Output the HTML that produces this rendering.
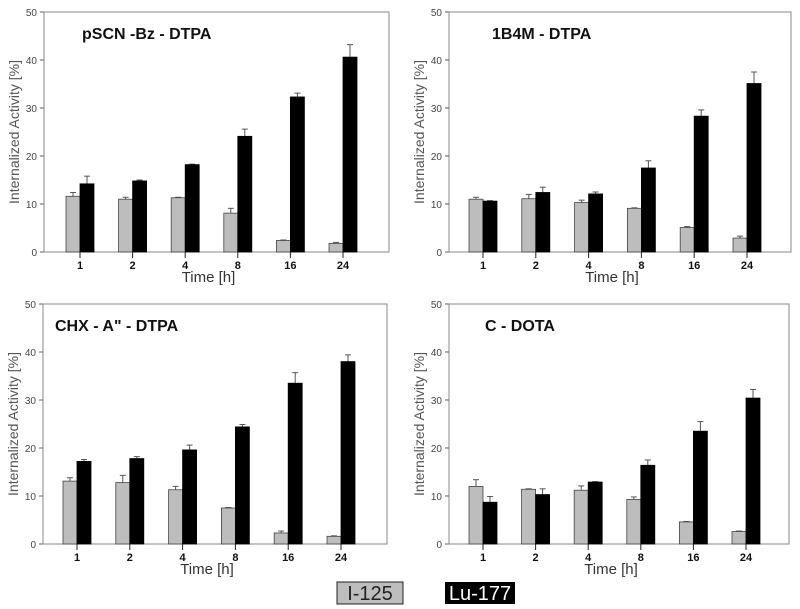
<!DOCTYPE html>
<html><head><meta charset="utf-8"><style>
body{margin:0;background:#fff;width:800px;height:609px;overflow:hidden}
svg{display:block}
text{font-family:"Liberation Sans",Arial,sans-serif}
</style></head><body>
<svg id="c" width="800" height="609"></svg>
<script>
const categories=["1","2","4","8","16","24"];
const yTicks=[0,10,20,30,40,50];
const titles=["pSCN -Bz - DTPA","1B4M - DTPA","CHX - A\" - DTPA","C - DOTA"];
const i125TL=[11.6,11,11.3,8.1,2.4,1.8], i125ErrTL=[0.8,0.4,0.1,1,0.1,0.2];
const lu177TL=[14.2,14.8,18.2,24.1,32.3,40.6], lu177ErrTL=[1.6,0.2,0.1,1.5,0.8,2.6];
const i125TR=[11,11.1,10.3,9.1,5.1,2.9], i125ErrTR=[0.4,0.9,0.5,0.1,0.2,0.4];
const lu177TR=[10.6,12.4,12.1,17.5,28.3,35.1], lu177ErrTR=[0.1,1.1,0.4,1.5,1.3,2.4];
const i125BL=[13.1,12.8,11.3,7.5,2.3,1.6], i125ErrBL=[0.7,1.5,0.7,0.1,0.4,0.1];
const lu177BL=[17.2,17.8,19.6,24.4,33.5,38], lu177ErrBL=[0.4,0.4,1,0.5,2.2,1.4];
const i125BR=[12,11.4,11.2,9.3,4.6,2.6], i125ErrBR=[1.4,0.1,0.9,0.5,0.1,0.1];
const lu177BR=[8.7,10.3,12.9,16.4,23.5,30.4], lu177ErrBR=[1.2,1.2,0.1,1.1,2,1.8];

const svg=document.getElementById('c');
const NS='http://www.w3.org/2000/svg';
function mk(tag,at,parent,txt){const e=document.createElementNS(NS,tag);for(const k in at)e.setAttribute(k,at[k]);if(txt!==undefined)e.textContent=txt;(parent||svg).appendChild(e);return e;}

const panels=[
 {x0:44,x1:389,y0:12,y1:252,c0:80,c24:343,g:i125TL,ge:i125ErrTL,b:lu177TL,be:lu177ErrTL,name:'panel-pscn-bz-dtpa'},
 {x0:449,x1:791,y0:12,y1:252,c0:483,c24:747,g:i125TR,ge:i125ErrTR,b:lu177TR,be:lu177ErrTR,name:'panel-1b4m-dtpa'},
 {x0:43,x1:387,y0:304,y1:544,c0:77,c24:341,g:i125BL,ge:i125ErrBL,b:lu177BL,be:lu177ErrBL,name:'panel-chx-a-dtpa'},
 {x0:449,x1:789,y0:304,y1:544,c0:483,c24:746,g:i125BR,ge:i125ErrBR,b:lu177BR,be:lu177ErrBR,name:'panel-c-dota'}
];
panels.forEach((p,pi)=>{
 const g=mk('g',{});
 
 
 const y=v=>p.y1-(v/50)*(p.y1-p.y0);
 const step=(p.c24-p.c0)/(categories.length-1);
 const xc=i=>p.c0+i*step;
 const bw=14;
 const fr=mk('rect',{x:p.x0,y:p.y0,width:p.x1-p.x0,height:p.y1-p.y0,fill:'none',stroke:'#888','stroke-width':1},g);
 
 yTicks.forEach(t=>{
  mk('line',{x1:p.x0-4,x2:p.x0,y1:y(t),y2:y(t),stroke:'#666'},g);
  const tl=mk('text',{x:p.x0-7,y:y(t)+4,'text-anchor':'end','font-size':10,fill:'#444'},g,t);
  
 });
 const yt=mk('text',{transform:`translate(${p.x0-25},${(p.y0+p.y1)/2}) rotate(-90)`,'text-anchor':'middle','font-size':14,fill:'#555'},g,'Internalized Activity [%]');
 
 const ti=mk('text',{x:p.x0+(pi==2?12:pi==0?38:pi==1?43:36),y:p.y0+27,'font-size':16,'font-weight':'bold',fill:'#111'},g,titles[pi]);
 
 categories.forEach((c,i)=>{
  const cx=xc(i);
  mk('line',{x1:cx,x2:cx,y1:p.y1,y2:p.y1+6,stroke:'#222'},g);
  const tl=mk('text',{x:cx,y:p.y1+17,'text-anchor':'middle','font-size':11,'font-weight':'bold',fill:'#111'},g,c);
  
  [[p.g[i],p.ge[i],cx-bw,'#bdbdbd','#444','bar-i125'],[p.b[i],p.be[i],cx,'#000','#000','bar-lu177']].forEach(([v,e,x,f,s,n])=>{
   mk('line',{x1:x+bw/2,x2:x+bw/2,y1:y(v),y2:y(v+e),stroke:'#555'},g);
   mk('line',{x1:x+bw/2-3,x2:x+bw/2+3,y1:y(v+e),y2:y(v+e),stroke:'#555'},g);
   const r=mk('rect',{x:x,y:y(v),width:bw,height:p.y1-y(v),fill:f,stroke:s,'stroke-width':0.8},g);
   
  });
 });
 const xt=mk('text',{x:(p.x0+p.x1)/2-8,y:p.y1+30,'text-anchor':'middle','font-size':15,fill:'#333'},g,'Time [h]');
 
});
const l1=mk('rect',{x:337,y:582,width:66,height:22,fill:'#bdbdbd',stroke:'#222'});

const t1=mk('text',{x:370,y:600,'text-anchor':'middle','font-size':20,fill:'#222'},null,'I-125');

const l2=mk('rect',{x:445,y:582,width:70,height:22,fill:'#000'});

const t2=mk('text',{x:480,y:600,'text-anchor':'middle','font-size':20,fill:'#fff'},null,'Lu-177');

</script>
</body></html>
